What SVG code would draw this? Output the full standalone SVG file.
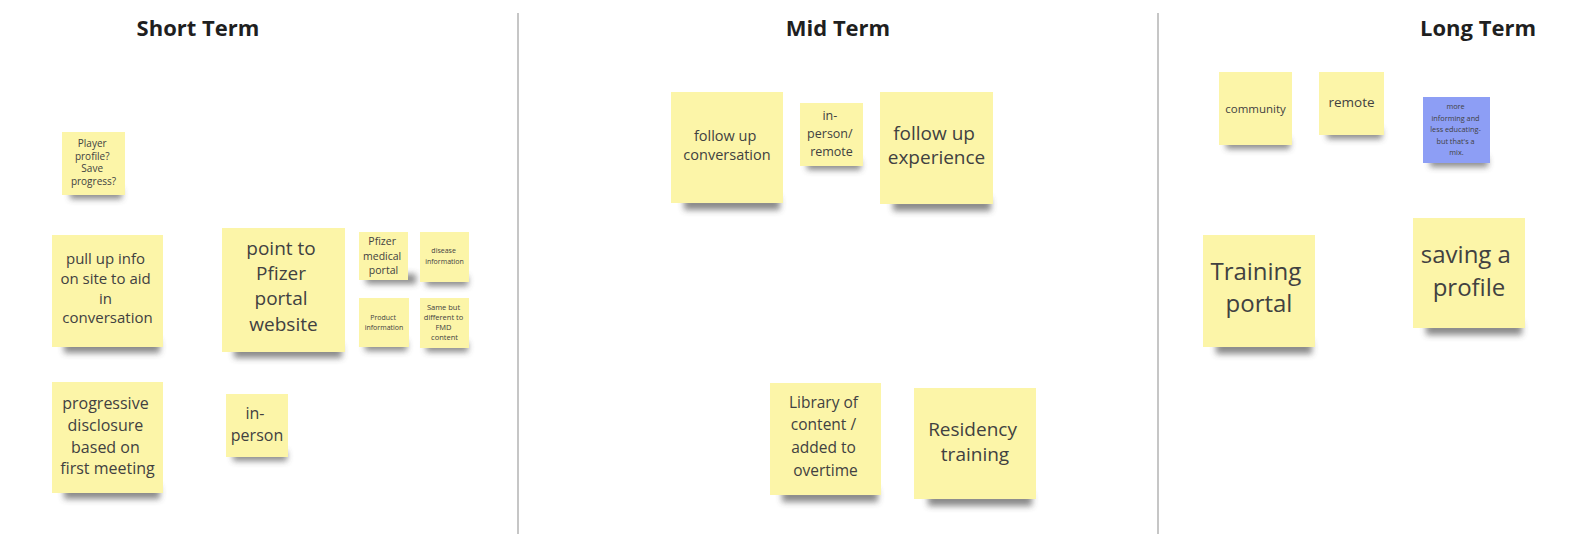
<svg xmlns="http://www.w3.org/2000/svg" width="1573" height="534" viewBox="0 0 1573 534">
  <defs>
    <filter id="soft" x="-20%" y="-200%" width="140%" height="500%">
      <feGaussianBlur stdDeviation="3"/>
    </filter>
  </defs>
  <style>
    .bg { fill: #ffffff; }
    .divider { stroke: #b8b8b8; stroke-width: 1.6; }
    .heading { font-family: "Open Sans", "Liberation Sans", sans-serif; font-weight: 700; font-size: 22px; fill: #1f1f1f; text-anchor: middle; }
    .note { fill: #fcf5a8; }
    .note.blue { fill: #8d9ef5; }
    .shadow { fill: #3c3c3c; opacity: 0.6; filter: url(#soft); }
    .label { font-family: "Open Sans", "Liberation Sans", sans-serif; fill: #414141; text-anchor: middle; dominant-baseline: central; }
  </style>

  <rect class="bg" x="0" y="0" width="1573" height="534"/>

  <!-- column dividers -->
  <g id="dividers">
    <line class="divider" x1="518" y1="13" x2="518" y2="534"/>
    <line class="divider" x1="1158" y1="13" x2="1158" y2="534"/>
  </g>

  <!-- column headings -->
  <g id="headings">
    <text class="heading" x="198" y="36">Short Term</text>
    <text class="heading" x="838" y="36">Mid Term</text>
    <text class="heading" x="1478" y="36">Long Term</text>
  </g>

  <!-- Short Term notes -->
  <g id="note-player-profile">
    <rect class="shadow" x="70" y="189" width="52" height="10"/>
    <rect class="note" x="62" y="132" width="63" height="63"/>
    <text class="label" font-size="10">
      <tspan x="93.5" y="143">Player</tspan>
      <tspan x="93.5" y="155.5">profile?</tspan>
      <tspan x="93.5" y="168">Save</tspan>
      <tspan x="93.5" y="180.5">progress?</tspan>
    </text>
  </g>

  <g id="note-pull-up-info">
    <rect class="shadow" x="64" y="340" width="96" height="13"/>
    <rect class="note" x="52" y="235" width="111" height="112"/>
    <text class="label" font-size="15">
      <tspan x="107.5" y="258">pull up info</tspan>
      <tspan x="107.5" y="278">on site to aid</tspan>
      <tspan x="107.5" y="298">in</tspan>
      <tspan x="107.5" y="317">conversation</tspan>
    </text>
  </g>

  <g id="note-point-to-pfizer">
    <rect class="shadow" x="234" y="345" width="108" height="13"/>
    <rect class="note" x="222" y="228" width="123" height="124"/>
    <text class="label" font-size="19">
      <tspan x="283.5" y="248">point to</tspan>
      <tspan x="283.5" y="273">Pfizer</tspan>
      <tspan x="283.5" y="298">portal</tspan>
      <tspan x="283.5" y="324">website</tspan>
    </text>
  </g>

  <g id="note-pfizer-medical-portal">
    <rect class="shadow" x="366" y="274" width="50" height="10"/>
    <rect class="note" x="359" y="232" width="49" height="48"/>
    <text class="label" font-size="10.5">
      <tspan x="383.5" y="241">Pfizer</tspan>
      <tspan x="383.5" y="256">medical</tspan>
      <tspan x="383.5" y="270">portal</tspan>
    </text>
  </g>

  <g id="note-disease-information">
    <rect class="shadow" x="426" y="276" width="42" height="10"/>
    <rect class="note" x="420" y="232" width="49" height="50"/>
    <text class="label" font-size="7">
      <tspan x="444.5" y="250">disease</tspan>
      <tspan x="444.5" y="261">information</tspan>
    </text>
  </g>

  <g id="note-product-information">
    <rect class="shadow" x="365" y="341" width="42" height="10"/>
    <rect class="note" x="359" y="298" width="50" height="49"/>
    <text class="label" font-size="7">
      <tspan x="384" y="317">Product</tspan>
      <tspan x="384" y="327">information</tspan>
    </text>
  </g>

  <g id="note-same-but-different">
    <rect class="shadow" x="426" y="342" width="42" height="10"/>
    <rect class="note" x="420" y="298" width="49" height="50"/>
    <text class="label" font-size="7.5">
      <tspan x="444.5" y="307">Same but</tspan>
      <tspan x="444.5" y="317">different to</tspan>
      <tspan x="444.5" y="327">FMD</tspan>
      <tspan x="444.5" y="337">content</tspan>
    </text>
  </g>

  <g id="note-progressive-disclosure">
    <rect class="shadow" x="64" y="486" width="96" height="13"/>
    <rect class="note" x="52" y="382" width="111" height="111"/>
    <text class="label" font-size="16">
      <tspan x="107.5" y="403">progressive</tspan>
      <tspan x="107.5" y="425">disclosure</tspan>
      <tspan x="107.5" y="447">based on</tspan>
      <tspan x="107.5" y="468">first meeting</tspan>
    </text>
  </g>

  <g id="note-in-person">
    <rect class="shadow" x="233" y="451" width="54" height="10"/>
    <rect class="note" x="226" y="394" width="62" height="63"/>
    <text class="label" font-size="16">
      <tspan x="257" y="413">in-</tspan>
      <tspan x="257" y="435">person</tspan>
    </text>
  </g>

  <!-- Mid Term notes -->
  <g id="note-follow-up-conversation">
    <rect class="shadow" x="684" y="197" width="96" height="13"/>
    <rect class="note" x="671" y="92" width="112" height="111"/>
    <text class="label" font-size="14.5">
      <tspan x="727" y="135">follow up</tspan>
      <tspan x="727" y="154">conversation</tspan>
    </text>
  </g>

  <g id="note-in-person-remote">
    <rect class="shadow" x="807" y="160" width="54" height="10"/>
    <rect class="note" x="800" y="103" width="63" height="63"/>
    <text class="label" font-size="12.5">
      <tspan x="831.5" y="115">in-</tspan>
      <tspan x="831.5" y="133">person/</tspan>
      <tspan x="831.5" y="151">remote</tspan>
    </text>
  </g>

  <g id="note-follow-up-experience">
    <rect class="shadow" x="893" y="198" width="98" height="13"/>
    <rect class="note" x="880" y="92" width="113" height="112"/>
    <text class="label" font-size="19">
      <tspan x="936.5" y="133">follow up</tspan>
      <tspan x="936.5" y="157">experience</tspan>
    </text>
  </g>

  <g id="note-library-of-content">
    <rect class="shadow" x="782" y="489" width="96" height="13"/>
    <rect class="note" x="770" y="383" width="111" height="112"/>
    <text class="label" font-size="15.5">
      <tspan x="825.5" y="402">Library of</tspan>
      <tspan x="825.5" y="424">content /</tspan>
      <tspan x="825.5" y="447">added to</tspan>
      <tspan x="825.5" y="470">overtime</tspan>
    </text>
  </g>

  <g id="note-residency-training">
    <rect class="shadow" x="928" y="493" width="104" height="13"/>
    <rect class="note" x="914" y="388" width="122" height="111"/>
    <text class="label" font-size="19">
      <tspan x="975" y="429">Residency</tspan>
      <tspan x="975" y="454">training</tspan>
    </text>
  </g>

  <!-- Long Term notes -->
  <g id="note-community">
    <rect class="shadow" x="1226" y="139" width="64" height="10"/>
    <rect class="note" x="1219" y="72" width="73" height="73"/>
    <text class="label" font-size="11.5">
      <tspan x="1255.5" y="108">community</tspan>
    </text>
  </g>

  <g id="note-remote">
    <rect class="shadow" x="1327" y="129" width="55" height="10"/>
    <rect class="note" x="1319" y="72" width="65" height="63"/>
    <text class="label" font-size="13.5">
      <tspan x="1351.5" y="102">remote</tspan>
    </text>
  </g>

  <g id="note-more-informing">
    <rect class="shadow" x="1430" y="157" width="58" height="10"/>
    <rect class="note blue" x="1423" y="97" width="67" height="66"/>
    <text class="label" font-size="7.3" fill="#2a2a3a">
      <tspan x="1456.5" y="106">more</tspan>
      <tspan x="1456.5" y="117.5">informing and</tspan>
      <tspan x="1456.5" y="129">less educating-</tspan>
      <tspan x="1456.5" y="140.5">but that's a</tspan>
      <tspan x="1456.5" y="152">mix.</tspan>
    </text>
  </g>

  <g id="note-training-portal">
    <rect class="shadow" x="1216" y="341" width="96" height="13"/>
    <rect class="note" x="1203" y="235" width="112" height="112"/>
    <text class="label" font-size="24">
      <tspan x="1259" y="270">Training</tspan>
      <tspan x="1259" y="302">portal</tspan>
    </text>
  </g>

  <g id="note-saving-a-profile">
    <rect class="shadow" x="1426" y="322" width="96" height="13"/>
    <rect class="note" x="1413" y="218" width="112" height="110"/>
    <text class="label" font-size="24">
      <tspan x="1469" y="253">saving a</tspan>
      <tspan x="1469" y="286">profile</tspan>
    </text>
  </g>
</svg>
